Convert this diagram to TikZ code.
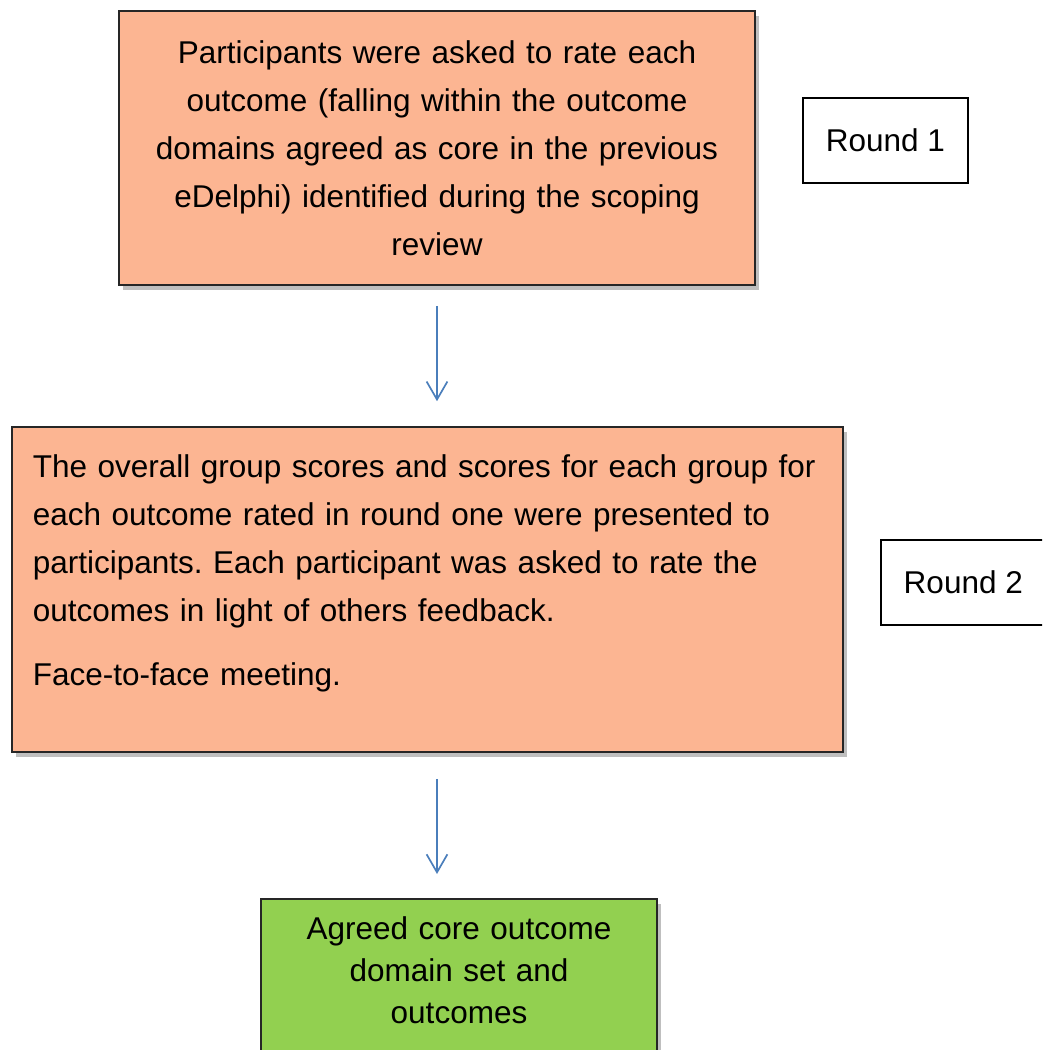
\documentclass[tikz,border=0pt]{standalone}
\usepackage{fontspec}
\setmainfont{Liberation Sans}
\usepackage{xcolor}
\usetikzlibrary{positioning,shadows,arrows.meta}
\definecolor{salmon}{HTML}{FCB592}
\definecolor{leaf}{HTML}{92D050}
\definecolor{arrowblue}{HTML}{4A7EBB}
\frenchspacing

\begin{document}
\begin{tikzpicture}[x=0.025cm, y=-0.025cm,
  >={Straight Barb[length=0.45cm,width=0.52cm]},
  every node/.style={font=\fontsize{22.4pt}{34.1pt}\selectfont},
  stage/.style={draw=black!85, line width=1.2pt, fill=salmon,
    drop shadow={shadow xshift=0.1cm, shadow yshift=-0.12cm, fill=black, opacity=0.25}},
  roundbox/.style={draw, line width=1.2pt, fill=white, minimum width=4.125cm, minimum height=2.125cm},
  flow/.style={->, arrowblue, line width=1.2pt}]
  \useasboundingbox (0,0) rectangle (1042,1050);
  \clip (0,0) rectangle (1042,1050);

  % round one
  \node[stage, anchor=north, text width=15cm, inner xsep=0.45cm, minimum height=6.85cm, align=center] (rate) at (437,10)
    {Participants were asked to rate each\\ outcome (falling within the outcome\\ domains agreed as core in the previous\\ eDelphi) identified during the scoping\\ review};
  \node[roundbox, right=1.15cm of rate, yshift=0.19cm] (round1) {Round 1};

  % round two
  \node[stage, anchor=north west, text width=19.725cm, inner xsep=0.525cm, inner ysep=0pt,
    text height=1.275cm, text depth=6.85cm, align=left] (feedback) at (11,426)
    {The overall group scores and scores for each group for\\ each outcome rated in round one were presented to\\ participants. Each participant was asked to rate the\\ outcomes in light of others feedback.\\[0.4cm] Face-to-face meeting.};
  \node[roundbox, right=0.9cm of feedback, yshift=0.175cm] (round2) {Round 2};

  % result
  \node[stage, fill=leaf, anchor=north, text width=9.3cm, inner xsep=0.3cm, inner ysep=0pt,
    text height=1.025cm, text depth=4cm, align=center, font=\fontsize{22.4pt}{29.9pt}\selectfont] (agreed) at (459,898)
    {Agreed core outcome\\ domain set and\\ outcomes};

  \draw[flow, shorten <=0.5cm, shorten >=0.62cm] (rate.south) -- (rate.south |- feedback.north);
  \draw[flow, shorten <=0.65cm, shorten >=0.6cm] (rate.south |- feedback.south) -- (rate.south |- agreed.north);
\end{tikzpicture}
\end{document}
